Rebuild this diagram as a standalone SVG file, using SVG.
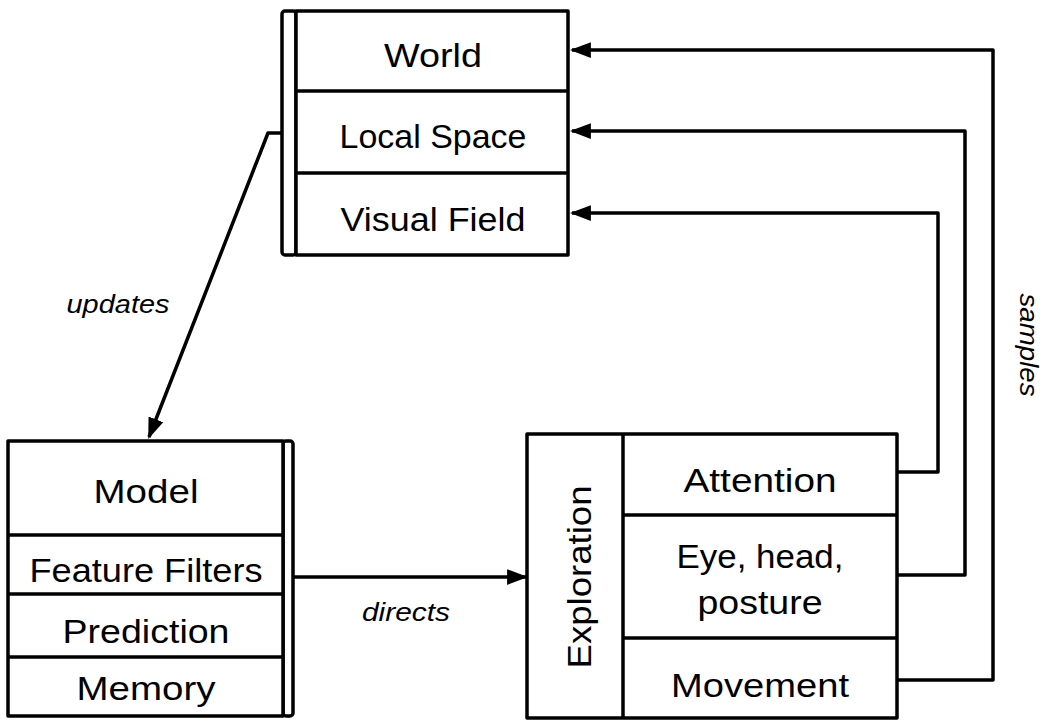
<svg xmlns="http://www.w3.org/2000/svg" width="1047" height="721" viewBox="0 0 1047 721">
<style>
.box{fill:#fff;stroke:#000;stroke-width:3.5;stroke-linejoin:round}
.ln{fill:none;stroke:#000;stroke-width:3.5}
.t{font-family:"Liberation Sans",Arial,sans-serif;font-size:33px;fill:#000;text-anchor:middle}
.lbl{font-family:"Liberation Sans",Arial,sans-serif;font-style:italic;font-size:25px;fill:#000;text-anchor:middle}
.con{fill:none;stroke:#000;stroke-width:3.5;stroke-linejoin:round}
</style>
<defs>
<marker id="ah" viewBox="0 0 10 10" refX="9" refY="5" markerWidth="6" markerHeight="5" markerUnits="strokeWidth" orient="auto" preserveAspectRatio="none">
<path d="M0,0.5 L10,5 L0,9.5 z" fill="#000"/>
</marker>
</defs>
<rect width="1047" height="721" fill="#fff"/>
<g id="connectors">
<path class="con" d="M282,133 L268,133 L149,437" marker-end="url(#ah)"/>
<path class="con" d="M293,577 L526,577" marker-end="url(#ah)"/>
<path class="con" d="M897,472 L938,472 L938,213 L572,213" marker-end="url(#ah)"/>
<path class="con" d="M897,575 L965,575 L965,131 L572,131" marker-end="url(#ah)"/>
<path class="con" d="M897,680 L993,680 L993,50 L572,50" marker-end="url(#ah)"/>
</g>
<g id="environment">
<rect class="box" x="282" y="11" width="14" height="244" rx="3"/>
<rect class="box" x="296" y="11" width="272" height="244"/>
<line class="ln" x1="296" y1="91" x2="568" y2="91"/>
<line class="ln" x1="296" y1="173" x2="568" y2="173"/>
<text class="t" x="433" y="67" textLength="98" lengthAdjust="spacingAndGlyphs">World</text>
<text class="t" x="433" y="148" textLength="187" lengthAdjust="spacingAndGlyphs">Local Space</text>
<text class="t" x="433" y="231" textLength="185" lengthAdjust="spacingAndGlyphs">Visual Field</text>
</g>
<g id="model">
<rect class="box" x="283" y="441" width="10" height="275" rx="3"/>
<rect class="box" x="8" y="441" width="275" height="275"/>
<line class="ln" x1="8" y1="535" x2="283" y2="535"/>
<line class="ln" x1="8" y1="594" x2="283" y2="594"/>
<line class="ln" x1="8" y1="657" x2="283" y2="657"/>
<text class="t" x="146" y="503" textLength="105" lengthAdjust="spacingAndGlyphs">Model</text>
<text class="t" x="146" y="582" textLength="233" lengthAdjust="spacingAndGlyphs">Feature Filters</text>
<text class="t" x="146" y="643" textLength="167" lengthAdjust="spacingAndGlyphs">Prediction</text>
<text class="t" x="146" y="700" textLength="139" lengthAdjust="spacingAndGlyphs">Memory</text>
</g>
<g id="exploration">
<rect class="box" x="527" y="434" width="370" height="284"/>
<line class="ln" x1="623" y1="434" x2="623" y2="718"/>
<line class="ln" x1="623" y1="515" x2="897" y2="515"/>
<line class="ln" x1="623" y1="638" x2="897" y2="638"/>
<text class="t" transform="translate(591,577) rotate(-90)" x="0" y="0" textLength="183" lengthAdjust="spacingAndGlyphs">Exploration</text>
<text class="t" x="760" y="492" textLength="153" lengthAdjust="spacingAndGlyphs">Attention</text>
<text class="t" x="760" y="568" textLength="167" lengthAdjust="spacingAndGlyphs">Eye, head,</text>
<text class="t" x="760" y="614" textLength="125" lengthAdjust="spacingAndGlyphs">posture</text>
<text class="t" x="760" y="697" textLength="178" lengthAdjust="spacingAndGlyphs">Movement</text>
</g>
<g id="labels">
<text class="lbl" x="118" y="313" textLength="103" lengthAdjust="spacingAndGlyphs">updates</text>
<text class="lbl" x="406" y="621" textLength="88" lengthAdjust="spacingAndGlyphs">directs</text>
<text class="lbl" transform="translate(1020,345) rotate(90)" x="0" y="0" textLength="103" lengthAdjust="spacingAndGlyphs">samples</text>
</g>
</svg>
